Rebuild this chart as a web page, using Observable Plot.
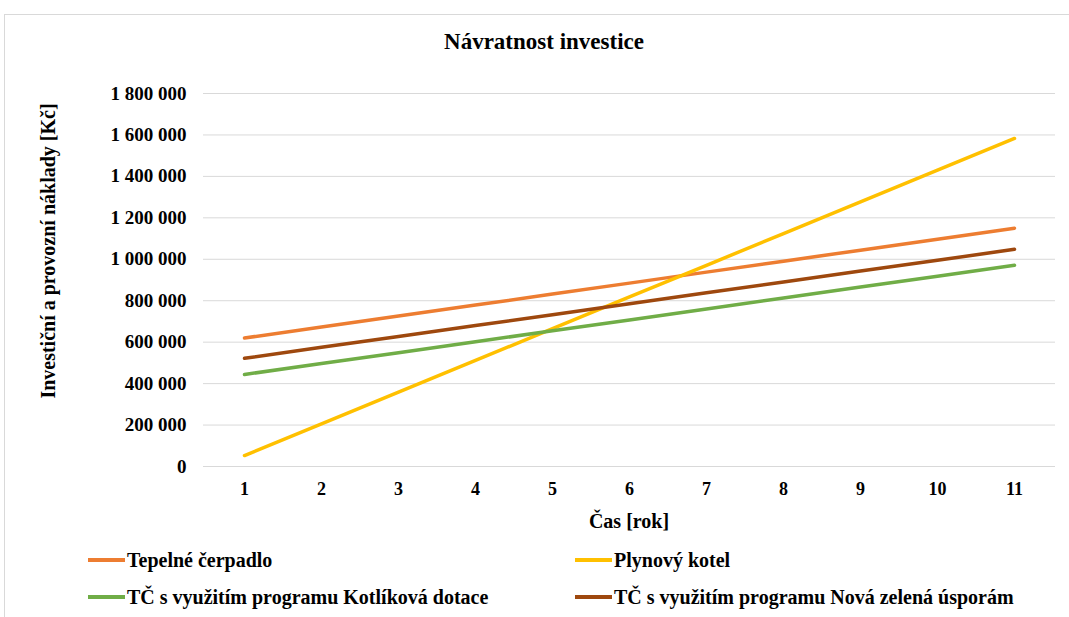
<!DOCTYPE html>
<html>
<head>
<meta charset="utf-8">
<script src="https://cdn.jsdelivr.net/npm/d3@7"></script>
<script src="https://cdn.jsdelivr.net/npm/@observablehq/plot@0.6"></script>
<style>
  body { margin: 0; background: #fff; }
  #wrap { position: relative; width: 1069px; height: 617px; font-family: "Liberation Serif", "Times New Roman", serif; font-weight: bold; color: #000; overflow: hidden; }
  #frame { position: absolute; left: 4px; top: 14px; width: 1070px; height: 610px; border: 1px solid #d9d9d9; box-sizing: border-box; }
  #title { position: absolute; left: 0; width: 1088px; top: 28px; text-align: center; font-size: 23px; line-height: 28px; }
  #chart { position: absolute; left: 0; top: 60px; }
  #ylabel { position: absolute; left: 48px; top: 251px; transform: translate(-50%, -50%) rotate(-90deg); white-space: nowrap; font-size: 20px; }
  #xlabel { position: absolute; left: 629px; top: 510px; transform: translateX(-50%); font-size: 20px; white-space: nowrap; }
  .leg { position: absolute; font-size: 20px; white-space: nowrap; display: flex; align-items: center; }
  .sw { display: inline-block; width: 37px; height: 4px; margin-right: 2px; }
</style>
</head>
<body>
<div id="wrap">
  <div id="frame"></div>
  <div id="title">Návratnost investice</div>
  <div id="chart"></div>
  <div id="ylabel">Investiční a provozní náklady [Kč]</div>
  <div id="xlabel">Čas [rok]</div>
  <div id="legend"></div>
</div>
<script>
const years = [1, 2, 3, 4, 5, 6, 7, 8, 9, 10, 11];
const seriesNames = [
  "Tepelné čerpadlo",
  "Plynový kotel",
  "TČ s využitím programu Kotlíková dotace",
  "TČ s využitím programu Nová zelená úsporám"
];
const seriesColors = ["#ED7D31", "#FFC000", "#70AD47", "#9E480E"];
const tepelneCerpadlo = [620000, 673000, 726000, 779000, 832000, 885000, 938000, 991000, 1044000, 1097000, 1150000];
const plynovyKotel = [53000, 206000, 359000, 512000, 665000, 818000, 971000, 1124000, 1277000, 1430000, 1583000];
const kotlikovaDotace = [444000, 497000, 549000, 602000, 655000, 707000, 760000, 813000, 866000, 918000, 971000];
const novaZelena = [522000, 575000, 627000, 680000, 732000, 785000, 838000, 890000, 943000, 995000, 1048000];
const yTicks = [0, 200000, 400000, 600000, 800000, 1000000, 1200000, 1400000, 1600000, 1800000];

const allSeries = [tepelneCerpadlo, plynovyKotel, kotlikovaDotace, novaZelena];
const data = [];
allSeries.forEach((vals, i) => vals.forEach((v, j) => data.push({series: seriesNames[i], year: years[j], value: v})));

const fmt = d3.formatLocale({thousands: "\u00a0", grouping: [3], decimal: ","}).format(",d");

const plot = Plot.plot({
  width: 1069,
  height: 480,
  marginTop: 33,
  marginBottom: 74,
  marginLeft: 203,
  marginRight: 14,
  style: {fontFamily: "'Liberation Serif', 'Times New Roman', serif", fontWeight: "bold", fontSize: "18px", color: "#000", background: "transparent", overflow: "visible"},
  x: {type: "point", domain: years, padding: 0.5, align: 0.5},
  y: {domain: [0, 1800000]},
  color: {domain: seriesNames, range: seriesColors},
  marks: [
    Plot.gridY(yTicks, {stroke: "#d9d9d9", strokeOpacity: 1, strokeWidth: 1}),
    Plot.axisY(yTicks, {tickSize: 0, tickPadding: 17, tickFormat: fmt, label: null, fontSize: 19, fontWeight: "bold"}),
    Plot.axisX(years, {tickSize: 0, tickPadding: 16, label: null, fontSize: 18, fontWeight: "bold"}),
    Plot.lineY(data, {x: "year", y: "value", stroke: "series", strokeWidth: 3.5, strokeLinecap: "round"})
  ]
});
document.getElementById("chart").appendChild(plot);

const legend = document.getElementById("legend");
const legPos = [[88, 560], [575, 560], [88, 597], [575, 597]];
seriesNames.forEach((name, i) => {
  const el = document.createElement("div");
  el.className = "leg";
  el.style.left = legPos[i][0] + "px";
  el.style.top = (legPos[i][1] - 12) + "px";
  el.style.height = "24px";
  el.innerHTML = `<span class="sw" style="background:${seriesColors[i]}"></span><span>${name}</span>`;
  legend.appendChild(el);
});
</script>
</body>
</html>
